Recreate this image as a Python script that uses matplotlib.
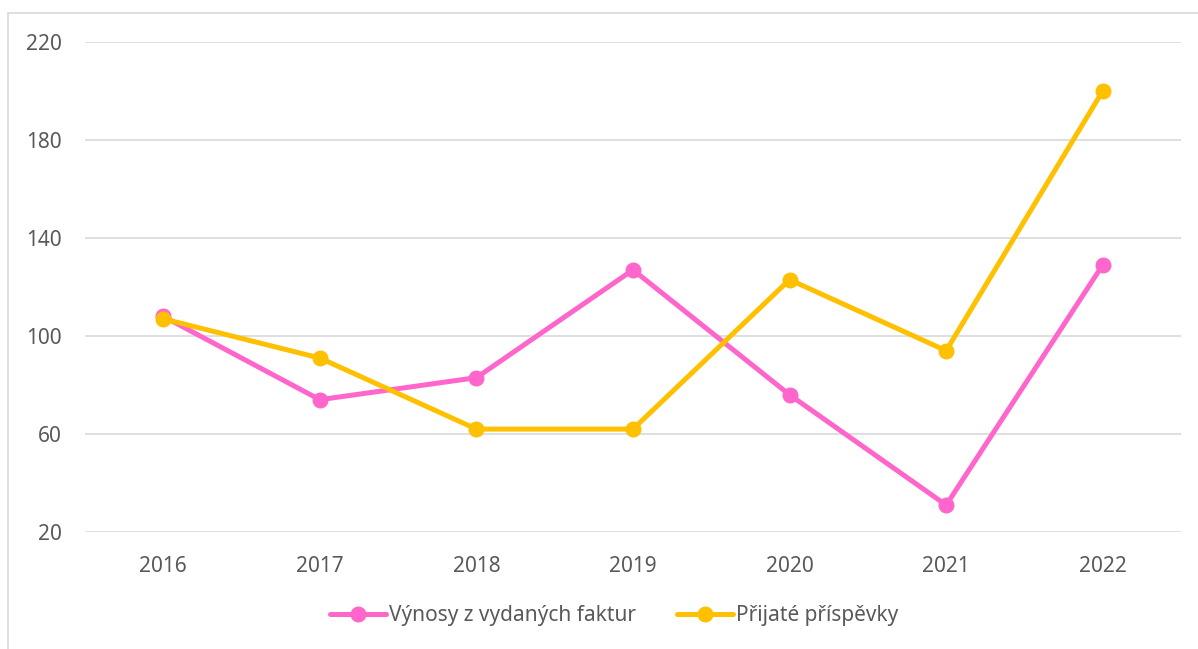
import matplotlib.pyplot as plt
from matplotlib.patches import Rectangle

years = ['2016', '2017', '2018', '2019', '2020', '2021', '2022']
vynosy = [108, 74, 83, 127, 76, 31, 129]
prispevky = [107, 91, 62, 62, 123, 94, 200]
y_ticks = [20, 60, 100, 140, 180, 220]

plt.rcParams['font.family'] = ['Noto Sans', 'DejaVu Sans']

fig = plt.figure(figsize=(11.98, 6.49), dpi=100)
ax = fig.add_axes([85 / 1198, 1 - 532 / 649, (1181 - 85) / 1198, (532 - 42) / 649])

# chart frame, cut off on the right and bottom like in the original
fig.patches.append(Rectangle((8 / 1198, -0.1), 1.2, 1 - 13 / 649 + 0.1,
                             transform=fig.transFigure, fill=False,
                             edgecolor='#D9D9D9', linewidth=1.2))

x = range(len(years))
ax.plot(x, vynosy, color='#FF66CC', linewidth=3.6, marker='o', markersize=10.5,
        label='Výnosy z vydaných faktur', solid_capstyle='round')
ax.plot(x, prispevky, color='#FFC000', linewidth=3.6, marker='o', markersize=10.5,
        label='Přijaté příspěvky', solid_capstyle='round')

ax.set_xlim(-0.5, len(years) - 0.5)
ax.set_ylim(20, 220)
ax.set_xticks(list(x))
ax.set_xticklabels(years)
ax.set_yticks(y_ticks)
ax.grid(axis='y', color='#D9D9D9', linewidth=1.2)
ax.set_axisbelow(True)
for s in ax.spines.values():
    s.set_visible(False)
ax.tick_params(axis='both', length=0, labelsize=15, labelcolor='#595959')
ax.tick_params(axis='y', pad=16.5)
ax.tick_params(axis='x', pad=17)

leg = fig.legend(loc='center', bbox_to_anchor=(614 / 1198, 1 - 616 / 649), ncol=2,
                 frameon=False, fontsize=15, handlelength=2.7, columnspacing=2.0,
                 handletextpad=0.1)
for t in leg.get_texts():
    t.set_color('#595959')

fig.savefig('out.png', dpi=100)
